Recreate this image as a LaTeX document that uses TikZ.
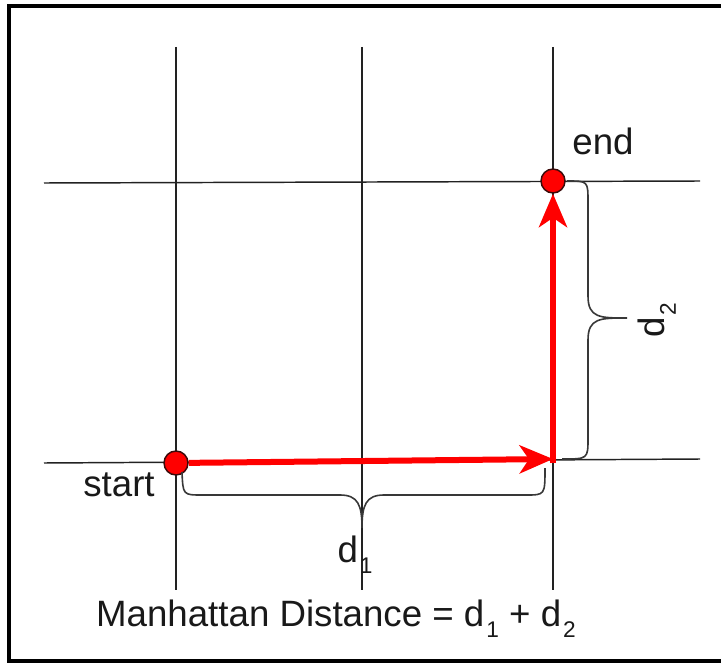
\documentclass[tikz,border=0pt]{standalone}
\usepackage{fontspec}
\setmainfont{Liberation Sans}
\usetikzlibrary{positioning,arrows.meta}
\definecolor{CRed}{HTML}{FF0000}
\definecolor{CLine}{HTML}{222222}
\definecolor{CDot}{HTML}{3A0A0A}
\newcommand{\lowsub}[1]{\kern1.5pt\raisebox{-0.3em}{\fontsize{17}{17}\selectfont #1}}

\begin{document}
\begin{tikzpicture}[x=0.75pt, y=-0.75pt,
  every node/.style={font=\fontsize{27.5}{33}\selectfont, text=black!90, inner sep=0pt},
  grid line/.style={CLine, line width=1.1pt},
  brace line/.style={CLine!90, line width=1.2pt},
  path arrow/.style={CRed, line width=4.5pt, -{Stealth[length=25pt, width=21pt, inset=7pt]}},
  dot/.style={circle, fill=CRed, draw=CDot, line width=1.1pt, minimum size=18pt}]
  \useasboundingbox (0,0) rectangle (721,663);
  % frame, open on the right
  \draw[line width=2.3pt] (730,6) -- (9,6) -- (9,661) -- (730,661);

  % street grid
  \foreach \gx in {176,362,553}
    \draw[grid line] (\gx,47) -- (\gx,590);
  \draw[grid line] (44,183) -- (700,181);
  \draw[grid line] (44,463) -- (700,459);

  \node[dot] (start) at (176,463) {};
  \node[dot] (end) at (553,181) {};
  \coordinate (turn) at (553,459);
  \node (startlbl) at (119,485) {start};
  \node (endlbl) at (603,141) {end};

  % the walk
  \draw[path arrow] (start) -- (turn);
  \draw[path arrow] ([yshift=-3pt]turn) -- (end);

  % braces
  \draw[brace line] (567,181) .. controls (588,181) .. (588,202) -- (588,296)
    .. controls (588,318) and (600,318) .. (627,318)
    .. controls (600,318) and (588,318) .. (588,340) -- (588,438)
    .. controls (588,459) .. (562,459);
  \node[rotate=90] (dtwo) at (657,320) {d\lowsub{2}};

  \draw[brace line] (182,472) .. controls (183,495) .. (202,495) -- (340,495)
    .. controls (358,495) and (362,505) .. (362,528)
    .. controls (362,505) and (366,495) .. (384,495) -- (526,495)
    .. controls (545,495) .. (545,468);
  \node (done) at (355,555) {d\lowsub{1}};

  \node[anchor=base] (formula) at (336,626) {Manhattan Distance = d\lowsub{1} + d\lowsub{2}};
\end{tikzpicture}
\end{document}
